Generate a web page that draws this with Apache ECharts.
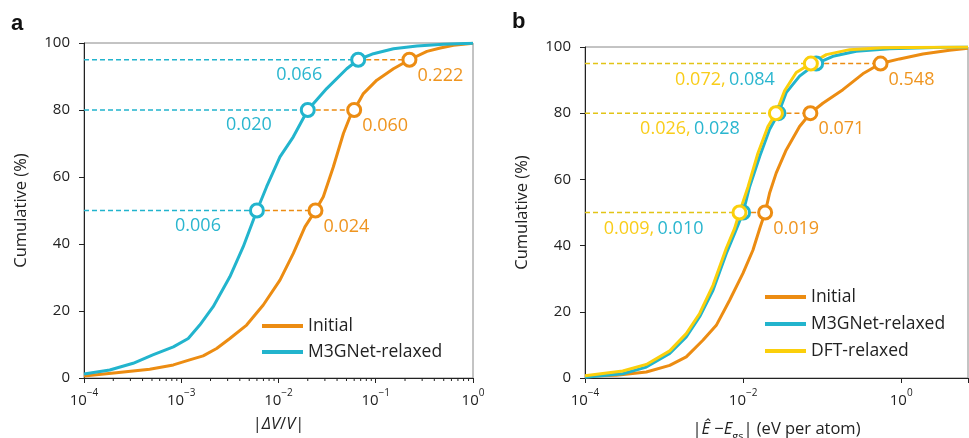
<!DOCTYPE html>
<html>
<head>
<meta charset="utf-8">
<script src="https://cdn.jsdelivr.net/npm/echarts@6/dist/echarts.min.js"></script>
<style>html,body{margin:0;padding:0;background:#fff;}#chart{width:969px;height:438px;}</style>
</head>
<body>
<div id="chart"></div>
<script>
// ---------- DATA ----------
const pctLevels = [50, 80, 95];

// Panel a : |ΔV/V|
const aInitialX = [1e-4, 2.15e-4, 4.74e-4, 8.3e-4, 1.22e-3, 1.68e-3, 2.31e-3, 3.16e-3, 4.7e-3, 6.97e-3, 0.01035, 0.0142, 0.0187, 0.024, 0.0289, 0.0366, 0.0465, 0.0544, 0.060, 0.0746, 0.1025, 0.152, 0.222, 0.336, 0.461, 0.631, 1];
const aInitialY = [0.6, 1.6, 2.6, 3.9, 5.4, 6.6, 8.8, 11.8, 15.8, 21.8, 29.2, 37.2, 45.1, 50, 54.1, 63, 73, 78, 80, 84.9, 88.9, 92.3, 95, 97.5, 98.5, 99.3, 99.9];
const aM3gX = [1e-4, 1.84e-4, 3.2e-4, 5.1e-4, 8.3e-4, 1.18e-3, 1.55e-3, 2.13e-3, 3.16e-3, 4.34e-3, 0.006, 7.55e-3, 0.01035, 0.0142, 0.020, 0.0313, 0.0503, 0.066, 0.0946, 0.152, 0.265, 0.498, 1];
const aM3gY = [1.2, 2.4, 4.4, 6.9, 9.3, 11.8, 15.8, 21.3, 30.2, 39.2, 50, 57.1, 66, 72, 80, 86.4, 92.3, 95, 96.8, 98.3, 99.1, 99.6, 99.9];
const aInitialMark = [0.024, 0.060, 0.222];
const aM3gMark = [0.006, 0.020, 0.066];

// Panel b : |Ê − E_gs|
const bInitialX = [1e-4, 2.49e-4, 5.97e-4, 1.18e-3, 1.91e-3, 3.1e-3, 4.58e-3, 6.75e-3, 9.95e-3, 0.0133, 0.0165, 0.019, 0.0216, 0.0262, 0.0351, 0.0518, 0.071, 0.102, 0.183, 0.327, 0.548, 0.953, 1.88, 4.08, 7];
const bInitialY = [0.5, 0.8, 1.8, 3.8, 6.4, 11.4, 15.9, 23.5, 31.6, 38.6, 45.7, 50, 55.8, 61.9, 68.9, 76, 80, 83, 87.1, 91.9, 95, 96.4, 97.9, 99.0, 99.6];
const bM3gX = [1e-4, 3.0e-4, 5.97e-4, 1.18e-3, 1.91e-3, 2.82e-3, 4.16e-3, 6.13e-3, 7.81e-3, 0.010, 0.0121, 0.0162, 0.0216, 0.028, 0.0351, 0.0518, 0.084, 0.137, 0.27, 0.713, 3.37, 7];
const bM3gY = [0.2, 1.3, 3.3, 7.4, 12.4, 18.5, 26.5, 37.6, 43.7, 50, 57.8, 66.9, 75.1, 80, 86.2, 91.2, 95, 97.2, 98.7, 99.5, 99.9, 100];
const bDftX = [1e-4, 3.0e-4, 5.97e-4, 1.18e-3, 1.91e-3, 2.82e-3, 4.16e-3, 6.13e-3, 7.81e-3, 0.009, 0.01156, 0.0154, 0.0206, 0.026, 0.0335, 0.047, 0.072, 0.113, 0.222, 0.586, 7];
const bDftY = [0.7, 2.1, 4.1, 8.2, 13.4, 19.5, 28, 39.2, 45.2, 50, 57.8, 67.9, 76, 80, 86.8, 92.3, 95, 97.7, 99.2, 99.8, 100];
const bInitialMark = [0.019, 0.071, 0.548];
const bM3gMark = [0.010, 0.028, 0.084];
const bDftMark = [0.009, 0.026, 0.072];

// axis decoration values
const aMinorTicks = [];
[-4, -3, -2, -1].forEach(e => { for (let m = 2; m <= 9; m++) aMinorTicks.push(m * Math.pow(10, e)); });

// ---------- STYLE ----------
const ORANGE = '#ec8c12', CYAN = '#22b4cd', YELLOW = '#fbcf0b';
const ORANGE_T = '#ef9520', CYAN_T = '#2ab6cf', YELLOW_T = '#f9cd1a';
const FONT = '"Open Sans", "Noto Sans", sans-serif';
const INK = '#222';
const LBL = 18;

const zip = (xs, ys) => xs.map((x, i) => [x, ys[i]]);
const fmt = v => v.toFixed(3);

function logLabel(v) {
  const e = Math.log10(v);
  const r = Math.round(e);
  if (Math.abs(e - r) > 1e-6) return '';
  const s = r < 0 ? '\u2212' + (-r) : String(r);
  return '{b|10}{s|' + s + '}';
}
const labelRich = {
  b: { fontSize: 15, color: INK, fontFamily: FONT, verticalAlign: 'bottom', lineHeight: 20 },
  s: { fontSize: 10, color: INK, fontFamily: FONT, verticalAlign: 'top', lineHeight: 20, padding: [0, 0, 10, 0] }
};

function xAxisDef(gi, max, interval, nameRich, name) {
  return {
    type: 'log', gridIndex: gi, logBase: 10, min: 1e-4, max: max, interval: interval,
    axisLine: { show: true, lineStyle: { color: INK, width: 1 } },
    axisTick: { show: true, inside: false, length: 5, lineStyle: { color: INK } },
    splitLine: { show: false },
    minorTick: { show: false },
    axisLabel: { formatter: logLabel, rich: labelRich, margin: 10 },
    name: name, nameLocation: 'middle', nameGap: 38,
    nameTextStyle: { rich: nameRich, fontSize: 16, color: INK, fontFamily: FONT }
  };
}
function yAxisDef(gi) {
  return {
    type: 'value', gridIndex: gi, min: 0, max: 100, interval: 20,
    axisLine: { show: true, lineStyle: { color: INK, width: 1 } },
    axisTick: { show: true, inside: false, length: 5, lineStyle: { color: INK } },
    splitLine: { show: false },
    axisLabel: { fontSize: 15, color: INK, fontFamily: FONT, margin: 14 },
    name: 'Cumulative (%)', nameLocation: 'middle', nameGap: 54,
    nameTextStyle: { fontSize: 16.5, color: INK, fontFamily: FONT }
  };
}

const series = [];
function dash(gi, x0, x1, y, color) {
  series.push({ type: 'line', xAxisIndex: gi, yAxisIndex: gi, data: [[x0, y], [x1, y]], symbol: 'none',
    lineStyle: { type: [5, 3], width: 1.5, color: color }, z: 1, silent: true, animation: false });
}
function curve(gi, name, xs, ys, color, z) {
  series.push({ type: 'line', name: name, xAxisIndex: gi, yAxisIndex: gi, data: zip(xs, ys), symbol: 'none',
    color: color, lineStyle: { width: 3, color: color }, itemStyle: { color: color }, z: z, animation: false });
}
function marks(gi, xs, color, label) {
  series.push({ type: 'scatter', xAxisIndex: gi, yAxisIndex: gi, data: xs.map((x, i) => [x, pctLevels[i]]),
    symbol: 'circle', symbolSize: 13,
    itemStyle: { color: '#fff', borderColor: color, borderWidth: 3, opacity: 1 }, z: 6, animation: false,
    label: label || { show: false } });
}

// Panel a
pctLevels.forEach((p, i) => { dash(0, 1e-4, aM3gMark[i], p, CYAN); dash(0, aM3gMark[i], aInitialMark[i], p, ORANGE); });
curve(0, 'Initial', aInitialX, aInitialY, ORANGE, 3);
curve(0, 'M3GNet-relaxed', aM3gX, aM3gY, CYAN, 4);
marks(0, aInitialMark, ORANGE, { show: true, position: 'right', distance: 0, offset: [0, 16],
  formatter: p => fmt(p.value[0]), color: ORANGE_T, fontSize: LBL, fontFamily: FONT });
marks(0, aM3gMark, CYAN, { show: true, position: 'left', distance: 28, offset: [0, 15],
  formatter: p => fmt(p.value[0]), color: CYAN_T, fontSize: LBL, fontFamily: FONT });
series.push({ type: 'custom', xAxisIndex: 0, yAxisIndex: 0, clip: false, silent: true, z: 1, animation: false,
  data: aMinorTicks.map(v => [v, 0]),
  renderItem: (params, api) => {
    const p = api.coord([api.value(0), 0]);
    return { type: 'line', shape: { x1: p[0], y1: p[1], x2: p[0], y2: p[1] + 3 }, style: { stroke: INK, lineWidth: 1 } };
  } });

// Panel b
pctLevels.forEach((p, i) => { dash(1, 1e-4, bDftMark[i], p, '#e2c416'); dash(1, bM3gMark[i], bInitialMark[i], p, ORANGE); });
curve(1, 'Initial', bInitialX, bInitialY, ORANGE, 3);
curve(1, 'M3GNet-relaxed', bM3gX, bM3gY, CYAN, 4);
curve(1, 'DFT-relaxed', bDftX, bDftY, YELLOW, 5);
marks(1, bInitialMark, ORANGE, { show: true, position: 'right', distance: 0, offset: [0, 16],
  formatter: p => fmt(p.value[0]), color: ORANGE_T, fontSize: LBL, fontFamily: FONT });
marks(1, bM3gMark, CYAN, null);
marks(1, bDftMark, YELLOW, { show: true, position: 'left', distance: 28, offset: [0, 16],
  formatter: p => '{y|' + fmt(p.value[0]) + ',} {c|' + fmt(bM3gMark[p.dataIndex]) + '}',
  rich: { y: { color: YELLOW_T, fontSize: LBL, fontFamily: FONT }, c: { color: CYAN_T, fontSize: LBL, fontFamily: FONT } } });

const option = {
  backgroundColor: '#fff',
  animation: false,
  grid: [
    { left: 84, top: 43, width: 389, height: 335, show: true, borderColor: '#888', borderWidth: 1, backgroundColor: 'transparent', containLabel: false, outerBoundsMode: 'none' },
    { left: 585, top: 47, width: 383, height: 331, show: true, borderColor: '#888', borderWidth: 1, backgroundColor: 'transparent', containLabel: false, outerBoundsMode: 'none' }
  ],
  xAxis: [
    xAxisDef(0, 1, 1, { i: { fontStyle: 'italic', fontSize: 16.5, color: INK, fontFamily: FONT }, n: { fontSize: 16.5, color: INK, fontFamily: FONT } },
      '{n||}{i|ΔV}{n|/}{i|V}{n||}'),
    xAxisDef(1, 7, 2, { i: { fontStyle: 'italic', fontSize: 16.5, color: INK, fontFamily: FONT, verticalAlign: 'bottom', lineHeight: 22 },
                        n: { fontSize: 16.5, color: INK, fontFamily: FONT, verticalAlign: 'bottom', lineHeight: 22 },
                        sub: { fontSize: 11, color: INK, fontFamily: FONT, verticalAlign: 'bottom', lineHeight: 22, padding: [0, 0, -4, 0] } },
      '{n||}{i|Ê} {n|\u2212}{i|E}{sub|gs}{n|| (eV per atom)}')
  ],
  yAxis: [yAxisDef(0), yAxisDef(1)],
  legend: [
    { left: 257, top: 312, orient: 'vertical', icon: 'rect', itemWidth: 41, itemHeight: 4, itemGap: 8, selectedMode: false,
      data: ['Initial', 'M3GNet-relaxed'], textStyle: { fontSize: 17.5, color: INK, fontFamily: FONT } },
    { left: 760, top: 283, orient: 'vertical', icon: 'rect', itemWidth: 41, itemHeight: 4, itemGap: 9, selectedMode: false,
      data: ['Initial', 'M3GNet-relaxed', 'DFT-relaxed'], textStyle: { fontSize: 17.5, color: INK, fontFamily: FONT } }
  ],
  graphic: [
    { type: 'text', left: 11, top: 13, style: { text: 'a', font: 'bold 22px "Liberation Sans", Arial, sans-serif', fill: '#111' } },
    { type: 'text', left: 512, top: 11, style: { text: 'b', font: 'bold 22px "Liberation Sans", Arial, sans-serif', fill: '#111' } }
  ],
  series: series
};

const chart = echarts.init(document.getElementById('chart'), null, { renderer: 'canvas' });
chart.setOption(option);
</script>
</body>
</html>
